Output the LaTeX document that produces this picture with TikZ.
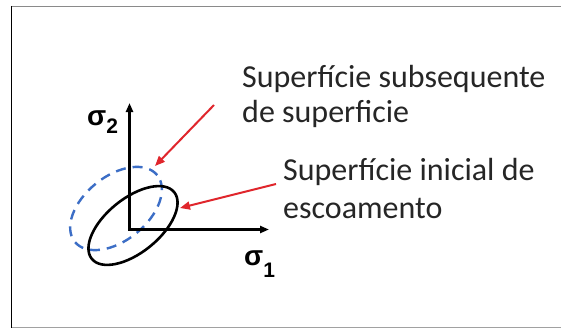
\documentclass[tikz,border=0pt]{standalone}
\usepackage{fontspec}
\setmainfont{Carlito}
\newfontfamily\sigfont{Liberation Sans}
\usetikzlibrary{arrows.meta}
\definecolor{redarrow}{HTML}{E0262C}
\definecolor{bluedash}{HTML}{3C6EC6}
\definecolor{framegray}{HTML}{8A8A8A}
\tikzset{
  lbl/.style={anchor=base west, inner sep=0pt, font=\fontsize{32}{36}\selectfont, text=black!85},
  sig/.style={anchor=base west, inner sep=0pt, font=\sigfont\bfseries\fontsize{28}{28}\selectfont},
  axis/.style={line width=2.6pt, -{Triangle[length=9pt,width=7pt]}},
  pointer/.style={draw=redarrow, line width=2pt, -{Triangle[length=10pt,width=8pt]}, color=redarrow},
  yieldsurf/.style={draw=black, line width=2.6pt},
  nextsurf/.style={draw=bluedash, line width=2.4pt, dash pattern=on 10pt off 7pt}
}
\begin{document}
\begin{tikzpicture}[x=1pt,y=-1pt]
\useasboundingbox (0,0) rectangle (561,329);
\fill[white] (0,0) rectangle (561,329);
% frame
\draw[framegray, line width=1.2pt] (11,6.6) -- (561,6.6);
\draw[framegray!80, line width=1.2pt] (11,327.6) -- (561,327.6);
\draw[black, line width=1.4pt] (11.7,6) -- (11.7,328.2);
% ellipses
\coordinate (cb) at (116,208.5);
\coordinate (ck) at (133,225.5);
\draw[nextsurf, rotate around={39:(cb)}] (cb) ellipse [x radius=53pt, y radius=32pt];
\draw[yieldsurf, rotate around={39:(ck)}] (ck) ellipse [x radius=53pt, y radius=27pt];
% axes
\coordinate (O) at (129.5,229.5);
\coordinate (ytip) at (129.5,103);
\coordinate (xtip) at (269,229.5);
\draw[axis] (O) -- (ytip);
\draw[axis] ([xshift=-1.3pt]O) -- (xtip);
% axis labels
\node[sig] (s2) at (87,125) {σ\raisebox{-8pt}{\fontsize{21}{21}\selectfont 2}};
\node[sig] (s1) at (244,265) {σ\raisebox{-12pt}{\fontsize{21}{21}\selectfont 1}};
% texts
\node[lbl] (t1a) at (242,87) {Superfície subsequente};
\node[lbl] (t1b) at (242,122.5) {de superficie};
\node[lbl] (t2a) at (283,180.5) {Superfície inicial de};
\node[lbl] (t2b) at (283,218) {escoamento};
% pointers
\coordinate (p1s) at (214,105);
\coordinate (p1e) at (155,166);
\coordinate (p2s) at (276,184);
\coordinate (p2e) at (180,208);
\draw[pointer] (p1s) -- (p1e);
\draw[pointer] (p2s) -- (p2e);
\end{tikzpicture}
\end{document}
